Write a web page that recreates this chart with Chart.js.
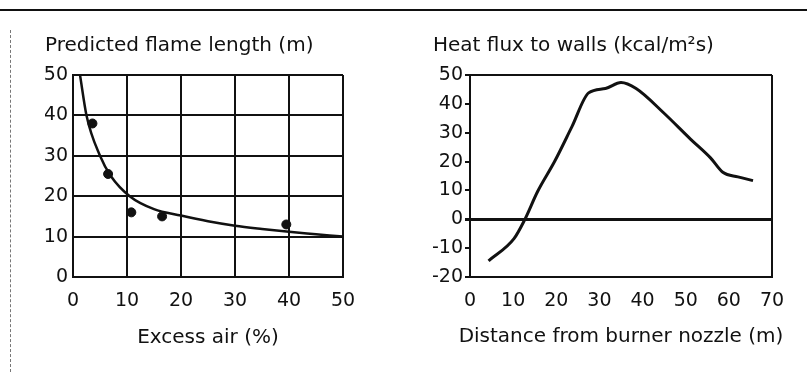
<!DOCTYPE html>
<html>
<head>
<meta charset="utf-8">
<script src="https://cdn.jsdelivr.net/npm/chart.js@4"></script>
<style>
  html, body { margin: 0; padding: 0; background: #fff; }
  #wrap { position: relative; width: 807px; height: 372px; overflow: hidden; }
  #topRule { position: absolute; left: 0; top: 9px; width: 807px; height: 0; border-top: 2px solid #111; }
  #sideRule { position: absolute; left: 10px; top: 30px; height: 342px; width: 0; border-left: 1px dashed #777; }
  canvas { position: absolute; top: 0; }
  #flame { left: 0; }
  #flux { left: 400px; }
</style>
</head>
<body>
<div id="wrap">
  <div id="topRule"></div>
  <div id="sideRule"></div>
  <canvas id="flame" width="400" height="372"></canvas>
  <canvas id="flux" width="407" height="372"></canvas>
</div>
<script>
// Left panel: predicted flame length vs excess air
const flameCurveX = [1.3, 2.5, 5, 7, 10.5, 15, 20, 25, 30, 35, 40, 45, 50];
const flameCurveY = [50, 40, 30, 25, 20, 16.8, 15.2, 13.8, 12.7, 11.9, 11.2, 10.6, 10];
const flamePointX = [3.6, 6.5, 10.8, 16.5, 39.5];
const flamePointY = [38, 25.5, 16, 15, 13];
const flameTicksX = [0, 10, 20, 30, 40, 50];
const flameTicksY = [0, 10, 20, 30, 40, 50];

// Right panel: heat flux to walls vs distance from nozzle
const fluxX = [4.3, 10.2, 12.6, 15.7, 19.6, 23.6, 27.5, 31.4, 35, 38.5, 44.8, 51.1, 55.8, 58.6, 62.1, 65.6];
const fluxY = [-14.4, -6.7, -0.4, 9.7, 20, 32, 43.8, 45.3, 47.4, 45.3, 37, 27.8, 21.2, 16.3, 14.7, 13.4];
const fluxTicksX = [0, 10, 20, 30, 40, 50, 60, 70];
const fluxTicksY = [-20, -10, 0, 10, 20, 30, 40, 50];

const ink = "#111";
const FONT = "'DejaVu Sans', sans-serif";
const tickFont = { family: FONT, size: 19 };
const titleFont = { family: FONT, size: 20, weight: "normal" };

const pairs = (xs, ys) => xs.map((x, i) => ({ x: x, y: ys[i] }));

// fixed axis sizes so both plot boxes sit where the reference has them
const fixW = (w) => (s) => { s.width = w; };
const fixH = (h) => (s) => { s.height = h; };

// x-axis title wider than the plot box: draw it unsqueezed under the plot
const wideXTitle = {
  id: "wideXTitle",
  afterDraw(chart, args, opts) {
    const { ctx, chartArea } = chart;
    ctx.save();
    ctx.font = "20px " + FONT;
    ctx.fillStyle = ink;
    ctx.textAlign = "center";
    ctx.textBaseline = "middle";
    ctx.fillText(opts.text, (chartArea.left + chartArea.right) / 2, opts.y);
    ctx.restore();
  },
};

new Chart(document.getElementById("flame"), {
  type: "scatter",
  data: {
    datasets: [
      {
        data: pairs(flameCurveX, flameCurveY),
        showLine: true,
        borderColor: ink,
        borderWidth: 2.5,
        pointRadius: 0,
        cubicInterpolationMode: "monotone",
      },
      {
        data: pairs(flamePointX, flamePointY),
        backgroundColor: ink,
        borderColor: ink,
        pointRadius: 4.5,
      },
    ],
  },
  options: {
    responsive: false,
    animation: false,
    layout: { padding: { left: 45, right: 57, top: 34, bottom: 22 } },
    plugins: {
      legend: { display: false },
      tooltip: { enabled: false },
      title: {
        display: true,
        text: "Predicted flame length (m)",
        align: "start",
        color: ink,
        font: titleFont,
        padding: { top: 0, bottom: 17 },
      },
    },
    scales: {
      x: {
        type: "linear",
        min: 0,
        max: 50,
        afterBuildTicks: (s) => { s.ticks = flameTicksX.map((v) => ({ value: v })); },
        afterFit: fixH(73),
        grid: { color: ink, lineWidth: 2, drawTicks: false },
        border: { color: ink, width: 2 },
        ticks: { color: ink, font: tickFont, padding: 13, maxRotation: 0 },
        title: { display: true, text: "Excess air (%)", color: ink, font: titleFont, padding: { top: 0, bottom: 0 } },
      },
      y: {
        min: 0,
        max: 50,
        afterBuildTicks: (s) => { s.ticks = flameTicksY.map((v) => ({ value: v })); },
        afterFit: fixW(28),
        grid: { color: ink, lineWidth: 2, drawTicks: false },
        border: { color: ink, width: 2 },
        ticks: { color: ink, font: tickFont, padding: 5 },
      },
    },
  },
});

new Chart(document.getElementById("flux"), {
  type: "scatter",
  data: {
    datasets: [
      {
        data: pairs(fluxX, fluxY),
        showLine: true,
        borderColor: ink,
        borderWidth: 3,
        pointRadius: 0,
        cubicInterpolationMode: "monotone",
      },
    ],
  },
  plugins: [wideXTitle],
  options: {
    responsive: false,
    animation: false,
    layout: { padding: { left: 33, right: 35, top: 34, bottom: 22 } },
    plugins: {
      legend: { display: false },
      tooltip: { enabled: false },
      wideXTitle: { text: "Distance from burner nozzle (m)", y: 337 },
      title: {
        display: true,
        text: "Heat flux to walls (kcal/m²s)",
        align: "start",
        color: ink,
        font: titleFont,
        padding: { top: 0, bottom: 17 },
      },
    },
    scales: {
      x: {
        type: "linear",
        min: 0,
        max: 70,
        afterBuildTicks: (s) => { s.ticks = fluxTicksX.map((v) => ({ value: v })); },
        afterFit: fixH(73),
        grid: {
          // only the right edge of the box
          color: (c) => (c.tick && c.tick.value === 70 ? ink : "rgba(0,0,0,0)"),
          lineWidth: 2,
          drawTicks: false,
        },
        border: { color: ink, width: 2 },
        ticks: { color: ink, font: tickFont, padding: 13, maxRotation: 0 },
      },
      y: {
        min: -20,
        max: 50,
        afterBuildTicks: (s) => { s.ticks = fluxTicksY.map((v) => ({ value: v })); },
        afterFit: fixW(37),
        grid: {
          // top edge and the zero line
          color: (c) => (c.tick && (c.tick.value === 50 || c.tick.value === 0) ? ink : "rgba(0,0,0,0)"),
          lineWidth: (c) => (c.tick && c.tick.value === 0 ? 3 : 2),
          tickColor: ink,
          tickLength: 5,
        },
        border: { color: ink, width: 2 },
        ticks: { color: ink, font: tickFont, padding: 2 },
      },
    },
  },
});
</script>
</body>
</html>
